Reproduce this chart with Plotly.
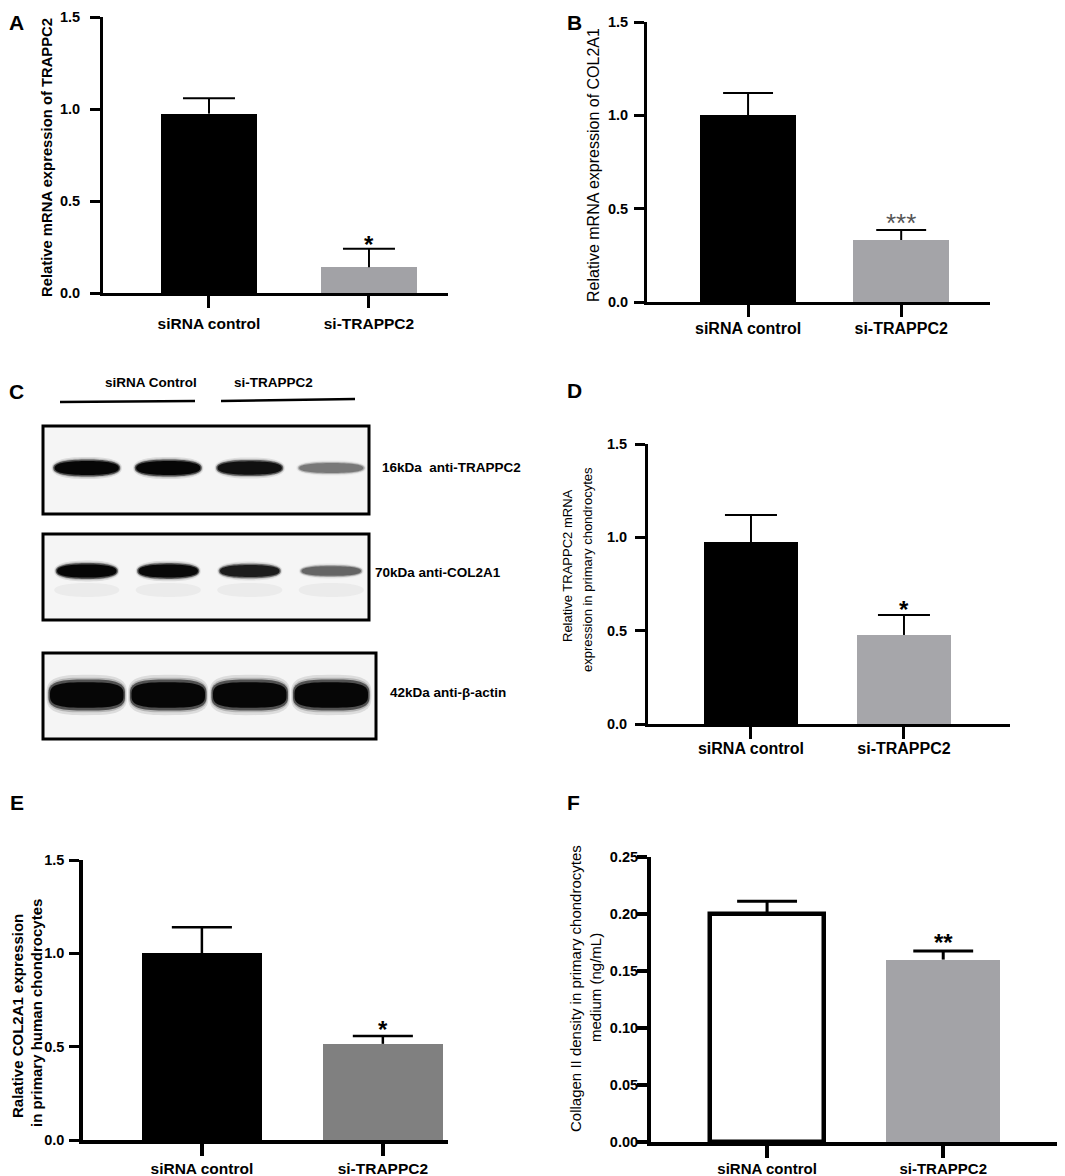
import numpy as np
import plotly.graph_objects as go

W, H = 1065, 1176
OFF = 8  # page body margin of the viewer, compensated in layout positions
FONT = "Arial, Liberation Sans, Helvetica, sans-serif"

# ---------------- data ----------------
categories = ["siRNA control", "si-TRAPPC2"]

a_mean = [0.975, 0.14]
a_sem = [0.083, 0.10]
a_sig = ["", "*"]

b_mean = [1.00, 0.332]
b_sem = [0.12, 0.054]
b_sig = ["", "***"]

d_mean = [0.975, 0.477]
d_sem = [0.145, 0.107]
d_sig = ["", "*"]

e_mean = [1.00, 0.515]
e_sem = [0.14, 0.042]
e_sig = ["", "*"]

f_mean = [0.200, 0.160]
f_sem = [0.0112, 0.0075]
f_sig = ["", "**"]

rel_ticks = [0.0, 0.5, 1.0, 1.5]
conc_ticks = [0.00, 0.05, 0.10, 0.15, 0.20, 0.25]

a_title = "Relative mRNA expression of TRAPPC2"
b_title = "Relative mRNA expression of COL2A1"
d_title = ["Relative TRAPPC2 mRNA", "expression in primary chondrocytes"]
e_title = ["Ralative COL2A1 expression", "in primary human chondrocytes"]
f_title = ["Collagen II density in primary chondrocytes", "medium (ng/mL)"]

blot_groups = ["siRNA Control", "si-TRAPPC2"]
blot_lanes = [0, 1, 2, 3]
blot_labels = ["16kDa\u00a0\u00a0anti-TRAPPC2", "70kDa anti-COL2A1", "42kDa anti-\u03b2-actin"]
trappc2_band = [1.0, 1.0, 0.9, 0.35]
col2a1_band = [1.0, 0.97, 0.8, 0.42]
actin_band = [1.0, 1.0, 1.0, 1.0]


def PX(p):
    return (p - OFF) / W


def PY(p):
    return 1 - (p - OFF) / H


def bold(s):
    return dict(family=FONT, size=s, color="black", weight="bold")


def norm(s):
    return dict(family=FONT, size=s, color="black")


fig = go.Figure()
annotations = []
shapes = []

panels = [
    dict(n=1, mean=a_mean, sem=a_sem, sig=a_sig, ax=103, right=448, top=17, bot=293,
         xr=[-0.6625, 1.494], yr=[0, 1.5], ticks=rel_ticks, fmt=".1f", bw=0.6, cap=0.1625,
         fill=["#000000", "#a2a2a6"], lcol=["#000000", "#a2a2a6"], lwid=[0, 0],
         lw=3, elw=2, xfs=15.5, yfs=14.5, ystand=7, xstand=2,
         sigcol="black", sigsize=24, sigshift=4, sigbold=True),
    dict(n=2, mean=b_mean, sem=b_sem, sig=b_sig, ax=647, right=990, top=22, bot=302,
         xr=[-0.66, 1.58], yr=[0, 1.5], ticks=rel_ticks, fmt=".1f", bw=0.63, cap=0.163,
         fill=["#000000", "#a4a4a8"], lcol=["#000000", "#a4a4a8"], lwid=[0, 0],
         lw=3, elw=2, xfs=16, yfs=14.5, ystand=3, xstand=-2,
         sigcol="#555555", sigsize=26, sigshift=7, sigbold=False),
    dict(n=3, mean=d_mean, sem=d_sem, sig=d_sig, ax=648, right=1010, top=444, bot=724,
         xr=[-0.673, 1.693], yr=[0, 1.5], ticks=rel_ticks, fmt=".1f", bw=0.61, cap=0.17,
         fill=["#000000", "#a6a6aa"], lcol=["#000000", "#a6a6aa"], lwid=[0, 0],
         lw=3, elw=2, xfs=16, yfs=14.5, ystand=5, xstand=-4,
         sigcol="black", sigsize=24, sigshift=5.5, sigbold=True),
    dict(n=4, mean=e_mean, sem=e_sem, sig=e_sig, ax=83, right=448, top=860, bot=1140,
         xr=[-0.657, 1.36], yr=[0, 1.5], ticks=rel_ticks, fmt=".1f", bw=0.66, cap=0.166,
         fill=["#000000", "#808080"], lcol=["#000000", "#808080"], lwid=[0, 0],
         lw=3.5, elw=2.5, xfs=15.5, yfs=14.5, ystand=2, xstand=0,
         sigcol="black", sigsize=24, sigshift=7, sigbold=True),
    dict(n=5, mean=f_mean, sem=f_sem, sig=f_sig, ax=651, right=1063, top=857, bot=1142,
         xr=[-0.659, 1.68], yr=[0, 0.25], ticks=conc_ticks, fmt=".2f", bw=0.645, cap=0.17,
         fill=["#ffffff", "#a3a3a7"], lcol=["#000000", "#a3a3a7"], lwid=[4.5, 0],
         lw=4, elw=3, xfs=15, yfs=14.5, ystand=-4, xstand=-2,
         sigcol="black", sigsize=24, sigshift=9, sigbold=True),
]

for p in panels:
    n = p["n"]
    xs = list(range(len(categories)))
    fig.add_trace(go.Bar(
        x=xs, y=p["mean"], width=p["bw"],
        marker=dict(color=p["fill"], line=dict(color=p["lcol"], width=p["lwid"])),
        xaxis=f"x{n}", yaxis=f"y{n}", hoverinfo="skip", showlegend=False,
    ))
    ex, ey = [], []
    for i, (m, s) in enumerate(zip(p["mean"], p["sem"])):
        ex += [i, i, None, i - p["cap"], i + p["cap"], None]
        ey += [m, m + s, None, m + s, m + s, None]
    fig.add_trace(go.Scatter(
        x=ex, y=ey, mode="lines", line=dict(color="black", width=p["elw"]),
        xaxis=f"x{n}", yaxis=f"y{n}", hoverinfo="skip", showlegend=False, cliponaxis=False,
    ))
    for i, (m, s, sg) in enumerate(zip(p["mean"], p["sem"], p["sig"])):
        if sg:
            f = dict(family=FONT, size=p["sigsize"], color=p["sigcol"],
                     weight="bold" if p["sigbold"] else "normal")
            annotations.append(dict(
                x=i, y=m + s, xref=f"x{n}", yref=f"y{n}", text=sg, showarrow=False,
                xanchor="center", yanchor="middle", yshift=p["sigshift"], font=f))
    fig.update_layout(**{
        f"xaxis{n}": dict(
            domain=[PX(p["ax"]), PX(p["right"])], range=p["xr"], anchor=f"y{n}",
            showline=True, linecolor="black", linewidth=p["lw"], showgrid=False, zeroline=False,
            ticks="outside", tickvals=xs, ticktext=categories, ticklen=12, tickwidth=p["lw"],
            tickcolor="black", tickfont=bold(p["xfs"]), ticklabelstandoff=p["xstand"],
            automargin=False, fixedrange=True),
        f"yaxis{n}": dict(
            domain=[PY(p["bot"]), PY(p["top"])], range=p["yr"], anchor=f"x{n}",
            showline=True, linecolor="black", linewidth=p["lw"], showgrid=False, zeroline=False,
            ticks="outside", tickvals=p["ticks"], tickformat=p["fmt"], ticklen=10,
            tickwidth=p["lw"] - 0.5, tickcolor="black", tickfont=bold(p["yfs"]),
            ticklabelstandoff=p["ystand"], automargin=False, fixedrange=True),
    })

# ---------------- y-axis titles ----------------
def vtitle(text, x, y, font):
    annotations.append(dict(x=PX(x), y=PY(y), xref="paper", yref="paper", text=text,
                            textangle=-90, showarrow=False, xanchor="center",
                            yanchor="middle", font=font))


vtitle(a_title, 47, 158, bold(14.8))
vtitle(b_title, 593, 165, norm(16))
vtitle(d_title[0], 567, 566, norm(13))
vtitle(d_title[1], 588, 570, norm(13))
vtitle(e_title[0], 17, 1016, bold(15))
vtitle(e_title[1], 36, 1013, bold(15))
vtitle(f_title[0], 575, 989, norm(15))
vtitle(f_title[1], 595, 988, norm(15))

# ---------------- panel letters ----------------
for letter, x, y in [("A", 17, 23), ("B", 574, 23), ("C", 17, 391),
                     ("D", 574, 390), ("E", 17, 803), ("F", 573, 803)]:
    annotations.append(dict(x=PX(x), y=PY(y), xref="paper", yref="paper", text=letter,
                            showarrow=False, xanchor="center", yanchor="middle", font=bold(21)))

# ---------------- western blot (panel C) ----------------
fig.update_layout(
    xaxis6=dict(domain=[PX(46), PX(372)], range=[-0.5, 3.5], visible=False, fixedrange=True,
                anchor="y6", automargin=False),
    yaxis6=dict(domain=[PY(745), PY(420)], range=[0, 1], visible=False, fixedrange=True,
                anchor="x6", automargin=False),
)
fig.add_trace(go.Scatter(x=blot_lanes, y=[0.5] * len(blot_lanes), mode="markers",
                         marker=dict(opacity=0), xaxis="x6", yaxis="y6",
                         hoverinfo="skip", showlegend=False))

boxes = [(43, 426, 369, 514), (43, 534, 369, 620), (43, 653, 376, 739)]
for (x0, y0, x1, y1) in boxes:
    shapes.append(dict(type="rect", xref="paper", yref="paper", x0=PX(x0), x1=PX(x1),
                       y0=PY(y1), y1=PY(y0), line=dict(color="black", width=3),
                       fillcolor="#f5f5f5", layer="above"))


def band_path(cx, cy_px, hw, hh_px, n):
    t = np.linspace(0, 2 * np.pi, 72)
    c, s = np.cos(t), np.sin(t)
    xs = cx + hw * np.sign(c) * np.abs(c) ** (2.0 / n)
    ys = PY(cy_px) + (hh_px / H) * np.sign(s) * np.abs(s) ** (2.0 / n)
    pts = " L".join(f"{x:.4f},{y:.5f}" for x, y in zip(xs, ys))
    return "M" + pts + " Z"


layers = [(1.05, 1.3, 0.10), (1.02, 1.12, 0.18), (1.0, 1.0, 0.55), (0.96, 0.82, 0.92)]
rows = [
    dict(vals=trappc2_band, cy=468, hw=0.41, hh=8.5, n=2.4),
    dict(vals=col2a1_band, cy=571, hw=0.38, hh=8, n=2.4),
    dict(vals=actin_band, cy=695, hw=0.47, hh=15.5, n=3.2),
]
for r in rows:
    for lane, inten in zip(blot_lanes, r["vals"]):
        hh = r["hh"] * (0.55 + 0.45 * inten)
        for sx, sy, op in layers:
            shapes.append(dict(type="path", xref="x6", yref="paper",
                               path=band_path(lane, r["cy"], r["hw"] * sx, hh * sy, r["n"]),
                               fillcolor="black", opacity=min(1.0, inten * op),
                               line=dict(width=0), layer="above"))
# faint haze below COL2A1 bands
for lane, inten in zip(blot_lanes, col2a1_band):
    shapes.append(dict(type="path", xref="x6", yref="paper",
                       path=band_path(lane, 590, 0.4, 7, 2.2), fillcolor="black",
                       opacity=0.04, line=dict(width=0), layer="above"))

for text, x, y in zip(blot_labels, [380, 373, 388], [467, 572, 692]):
    annotations.append(dict(x=PX(x), y=PY(y), xref="paper", yref="paper", text=text,
                            showarrow=False, xanchor="left", yanchor="middle", font=bold(13.5)))

for text, x in zip(blot_groups, [151, 273]):
    annotations.append(dict(x=PX(x), y=PY(382), xref="paper", yref="paper", text=text,
                            showarrow=False, xanchor="center", yanchor="middle", font=bold(13.5)))

for (x0, y0, x1, y1) in [(60, 402, 195, 401), (221, 401, 355, 399)]:
    shapes.append(dict(type="line", xref="paper", yref="paper", x0=PX(x0), y0=PY(y0),
                       x1=PX(x1), y1=PY(y1), line=dict(color="black", width=2.5)))

fig.update_layout(
    template="none",
    width=W, height=H, autosize=False,
    margin=dict(l=0, r=0, t=0, b=0, pad=0),
    paper_bgcolor="white", plot_bgcolor="white",
    showlegend=False, bargap=0,
    annotations=annotations, shapes=shapes,
    font=dict(family=FONT, color="black"),
)

fig.write_html("out.html")
